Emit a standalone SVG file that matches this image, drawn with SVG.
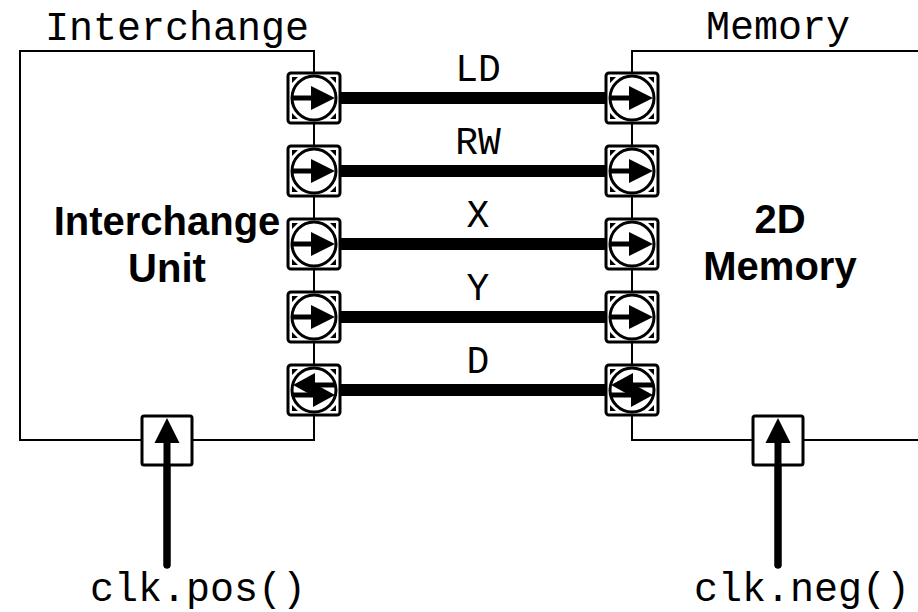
<svg xmlns="http://www.w3.org/2000/svg" xmlns:xlink="http://www.w3.org/1999/xlink" width="918" height="612" viewBox="0 0 918 612">
<style>
.box{fill:none;stroke:#000;stroke-width:2}
.mono{font-family:"Liberation Mono","Courier New",monospace;font-size:40px;fill:#000}
.lbl{font-family:"Liberation Mono","Courier New",monospace;font-size:38px;fill:#000;text-anchor:middle}
.bold{font-family:"Liberation Sans",Arial,sans-serif;font-weight:bold;font-size:40px;fill:#000;text-anchor:middle}
.bus{stroke:#000;stroke-width:12;fill:none}
.clk{stroke:#000;stroke-width:7;stroke-linecap:round;fill:none}
</style>
<defs>
<g id="portFrame">
<rect x="-26" y="-25" width="52" height="50" rx="3" fill="#fff" stroke="#000" stroke-width="3"/>
<path d="M-22,-21 h6 l-6,6 z M22,-21 h-6 l6,6 z M-22,21 h6 l-6,-6 z M22,21 h-6 l6,-6 z" fill="#000"/>
<circle r="22" fill="#fff" stroke="#000" stroke-width="3"/>
</g>
<g id="portIn">
<use xlink:href="#portFrame"/>
<line x1="-22" y1="0" x2="-2" y2="0" stroke="#000" stroke-width="5"/>
<path d="M-3,-12 L21,0 L-3,12 z" fill="#000"/>
</g>
<g id="portBi">
<use xlink:href="#portFrame"/>
<line x1="0" y1="-5" x2="21" y2="-5" stroke="#000" stroke-width="5"/>
<path d="M1,-17 L-21,-5 L1,7 z" fill="#000"/>
<line x1="-21" y1="5" x2="0" y2="5" stroke="#000" stroke-width="5"/>
<path d="M-1,-7 L21,5 L-1,17 z" fill="#000"/>
</g>
<g id="clkPort">
<rect x="-25" y="-24" width="50" height="49" rx="2" fill="#fff" stroke="#000" stroke-width="3"/>
</g>
</defs>

<g id="interchange-unit">
<rect class="box" x="20" y="51" width="294" height="389"/>
<text class="mono" x="45" y="40">Interchange</text>
<text class="bold" x="167" y="235">Interchange</text>
<text class="bold" x="167" y="282">Unit</text>
</g>

<g id="memory">
<path class="box" d="M918,51 H632 V440 H918"/>
<text class="mono" x="706" y="39">Memory</text>
<text class="bold" x="780" y="233">2D</text>
<text class="bold" x="780" y="280">Memory</text>
</g>

<g id="connectors">
<line class="bus" x1="336" y1="98" x2="610" y2="98"/>
<line class="bus" x1="336" y1="171" x2="610" y2="171"/>
<line class="bus" x1="336" y1="244" x2="610" y2="244"/>
<line class="bus" x1="336" y1="317" x2="610" y2="317"/>
<line class="bus" x1="336" y1="390" x2="610" y2="390"/>
<line class="clk" x1="167" y1="565" x2="167" y2="440"/>
<line class="clk" x1="778" y1="565" x2="778" y2="440"/>
</g>

<g id="bus-labels">
<text class="lbl" x="478" y="81">LD</text>
<text class="lbl" x="478" y="154">RW</text>
<text class="lbl" x="478" y="227">X</text>
<text class="lbl" x="478" y="300">Y</text>
<text class="lbl" x="478" y="373">D</text>
</g>

<g id="ports-left">
<use xlink:href="#portIn" x="314" y="98"/>
<use xlink:href="#portIn" x="314" y="171"/>
<use xlink:href="#portIn" x="314" y="244"/>
<use xlink:href="#portIn" x="314" y="317"/>
<use xlink:href="#portBi" x="314" y="390"/>
</g>
<g id="ports-right">
<use xlink:href="#portIn" x="632" y="98"/>
<use xlink:href="#portIn" x="632" y="171"/>
<use xlink:href="#portIn" x="632" y="244"/>
<use xlink:href="#portIn" x="632" y="317"/>
<use xlink:href="#portBi" x="632" y="390"/>
</g>

<g id="clk-pos">
<use xlink:href="#clkPort" x="167" y="440"/>
<line x1="167" y1="565" x2="167" y2="443" stroke="#000" stroke-width="7" stroke-linecap="round"/>
<path d="M154.5,443 L167,418 L179.5,443 z" fill="#000"/>
<text class="mono" x="90" y="601">clk.pos()</text>
</g>
<g id="clk-neg">
<use xlink:href="#clkPort" x="778" y="440"/>
<line x1="778" y1="565" x2="778" y2="443" stroke="#000" stroke-width="7" stroke-linecap="round"/>
<path d="M765.5,443 L778,418 L790.5,443 z" fill="#000"/>
<text class="mono" x="694" y="601">clk.neg()</text>
</g>
</svg>
